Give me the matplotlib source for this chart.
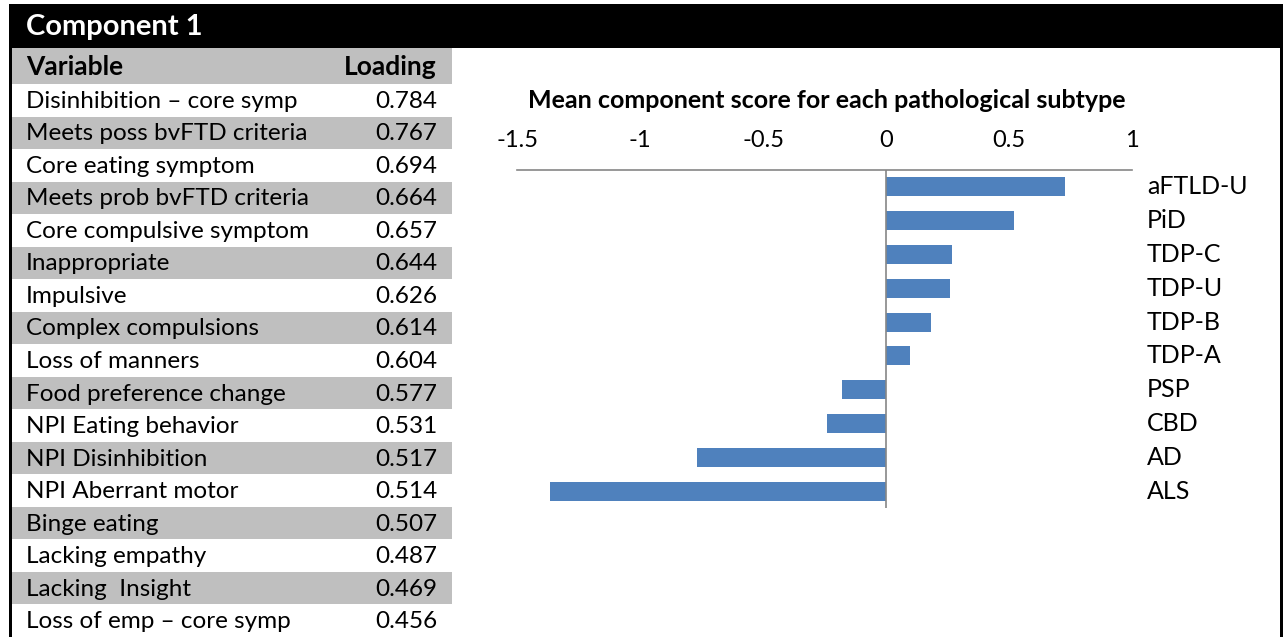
import matplotlib.pyplot as plt
from matplotlib.patches import Rectangle

# table data
variables = ['Disinhibition \u2013 core symp', 'Meets poss bvFTD criteria', 'Core eating symptom',
             'Meets prob bvFTD criteria', 'Core compulsive symptom', 'Inappropriate', 'Impulsive',
             'Complex compulsions', 'Loss of manners', 'Food preference change',
             'NPI Eating behavior', 'NPI Disinhibition', 'NPI Aberrant motor', 'Binge eating',
             'Lacking empathy', 'Lacking  Insight', 'Loss of emp \u2013 core symp']
loadings = ['0.784', '0.767', '0.694', '0.664', '0.657', '0.644', '0.626', '0.614', '0.604',
            '0.577', '0.531', '0.517', '0.514', '0.507', '0.487', '0.469', '0.456']

# chart data
subtypes = ['aFTLD-U', 'PiD', 'TDP-C', 'TDP-U', 'TDP-B', 'TDP-A', 'PSP', 'CBD', 'AD', 'ALS']
scores = [0.728, 0.52, 0.268, 0.26, 0.183, 0.097, -0.178, -0.238, -0.767, -1.365]
ticks = [-1.5, -1, -0.5, 0, 0.5, 1]

W, H = 1283, 637
plt.rcParams['font.family'] = ['Lato', 'DejaVu Sans']
fig = plt.figure(figsize=(W / 100, H / 100), dpi=100)


def box(x0, y0, x1, y1, color):
    # pixel coords, y from top
    fig.patches.append(Rectangle((x0 / W, 1 - y1 / H), (x1 - x0) / W, (y1 - y0) / H,
                                 transform=fig.transFigure, color=color, lw=0, zorder=0))


def txt(x, y, s, **kw):
    fig.text(x / W, 1 - y / H, s, va='center', **kw)


# black frame
box(9, 4, W, 48, 'black')
box(9, 4, 12, H, 'black')
box(1280, 4, W, H, 'black')
txt(26, 27, 'Component 1', color='white', fontsize=21, fontweight='bold')

# table
row_h = (H - 84) / len(variables)
box(12, 48, 452, 84, '#bfbfbf')
txt(26, 67, 'Variable', fontsize=19, fontweight='bold')
txt(437, 67, 'Loading', fontsize=19, fontweight='bold', ha='right')
for i, (v, l) in enumerate(zip(variables, loadings)):
    y0 = 84 + i * row_h
    if i % 2 == 1:
        box(12, y0, 452, y0 + row_h, '#bfbfbf')
    txt(26, y0 + row_h / 2 + 1, v, fontsize=17.5)
    txt(437, y0 + row_h / 2 + 1, l, fontsize=17.5, ha='right')

# chart
ax = fig.add_axes([517 / W, 1 - 508 / H, (1132 - 517) / W, (508 - 170) / H])
ax.barh(range(len(subtypes)), scores, height=0.56, color='#4f81bd', zorder=2)
ax.set_xlim(-1.5, 1)
ax.set_ylim(len(subtypes) - 0.5, -0.5)
ax.axvline(0, color='#868686', lw=1.2, zorder=3)
for s in ['bottom', 'left', 'right']:
    ax.spines[s].set_visible(False)
ax.spines['top'].set_color('#868686')
ax.spines['top'].set_linewidth(1.2)
ax.xaxis.tick_top()
ax.set_xticks(ticks)
ax.set_xticklabels([f'{t:g}' for t in ticks])
ax.tick_params(axis='x', length=0, pad=14, labelsize=17)
ax.set_yticks([])
for i, s in enumerate(subtypes):
    ax.text(1.0 + 15 / 246, i, s, va='center', ha='left', fontsize=18)
txt(827, 100, 'Mean component score for each pathological subtype',
    fontsize=18, fontweight='bold', ha='center')

fig.savefig('out.png', dpi=100, facecolor='white')
